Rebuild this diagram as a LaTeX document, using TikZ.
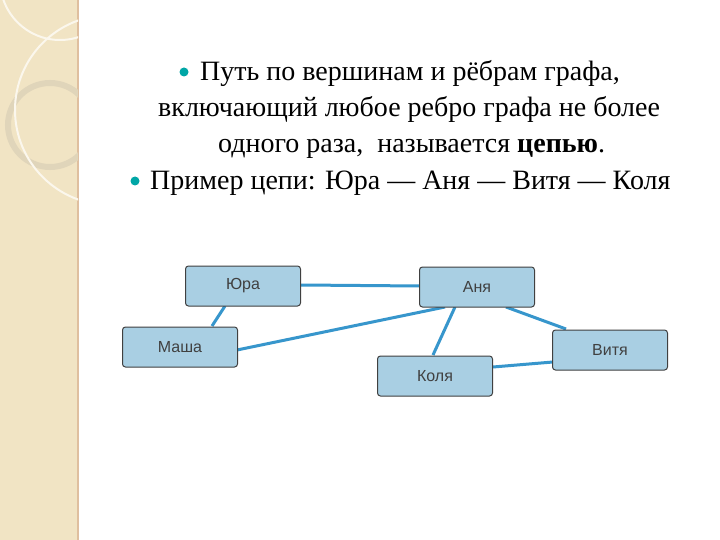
\documentclass[tikz,border=0pt]{standalone}
\usepackage{fontspec}
\setmainfont{Liberation Serif}
\newfontfamily\sansf{Liberation Sans}
\definecolor{boxfill}{HTML}{A9CFE3}
\definecolor{edgec}{HTML}{3796CC}
\definecolor{strip}{HTML}{F1E4C4}
\begin{document}
\begin{tikzpicture}[x=1pt,y=-1pt,
 gnode/.style={draw=black!75,fill=boxfill,rounded corners=3pt,line width=1pt,minimum width=115pt,minimum height=40pt,font=\sansf\fontsize{16}{16}\selectfont,text=black!75},
 edge/.style={draw=edgec,line width=3pt},
 txt/.style={font=\fontsize{28}{28}\selectfont,anchor=base west,inner sep=0},
 bul/.style={circle,fill=teal!70!cyan,inner sep=0,minimum size=9pt}]
\useasboundingbox (0,0) rectangle (720,540);
\fill[white] (0,0) rectangle (720,540);
\fill[strip] (0,0) rectangle (78,540);
\draw[brown!50,line width=1.5pt] (78,0) -- (78,540);
\begin{scope}
\clip (0,0) rectangle (78,540);
\draw[white!70!strip,line width=2pt] (60,-20) circle (60);
\draw[strip!85!gray,line width=6pt] (50,125) circle (42);
\draw[white!70!strip,line width=2pt] (110,110) circle (95);
\end{scope}
\node[bul] (b1) at (184,72) {};
\node[txt] (t1) at (200,81) {Путь по вершинам и рёбрам графа,};
\node[txt] (t2) at (158,117) {включающий любое ребро графа не более};
\node[txt] (t3) at (218,153) {одного раза, \ называется \textbf{цепью}.};
\node[bul] (b2) at (135,181) {};
\node[txt] (t4) at (150,190) {Пример цепи: Юра — Аня — Витя — Коля};
\draw[edge] (301,285) coordinate (e1) -- (420,286) coordinate (e2);
\draw[edge] (225,306) coordinate (e3) -- (212,326) coordinate (e4);
\draw[edge] (445,307) coordinate (e5) -- (237,350) coordinate (e6);
\draw[edge] (455,307) coordinate (e7) -- (433,355) coordinate (e8);
\draw[edge] (506,307) coordinate (e9) -- (566,329) coordinate (e10);
\draw[edge] (493,367) coordinate (e11) -- (553,362) coordinate (e12);
\node[gnode] (ju) at (243,286) {Юра};
\node[gnode] (an) at (477,287) {Аня};
\node[gnode] (ma) at (180,347) {Маша};
\node[gnode] (vi) at (610,350) {Витя};
\node[gnode] (ko) at (435,376) {Коля};
\end{tikzpicture}
\end{document}
